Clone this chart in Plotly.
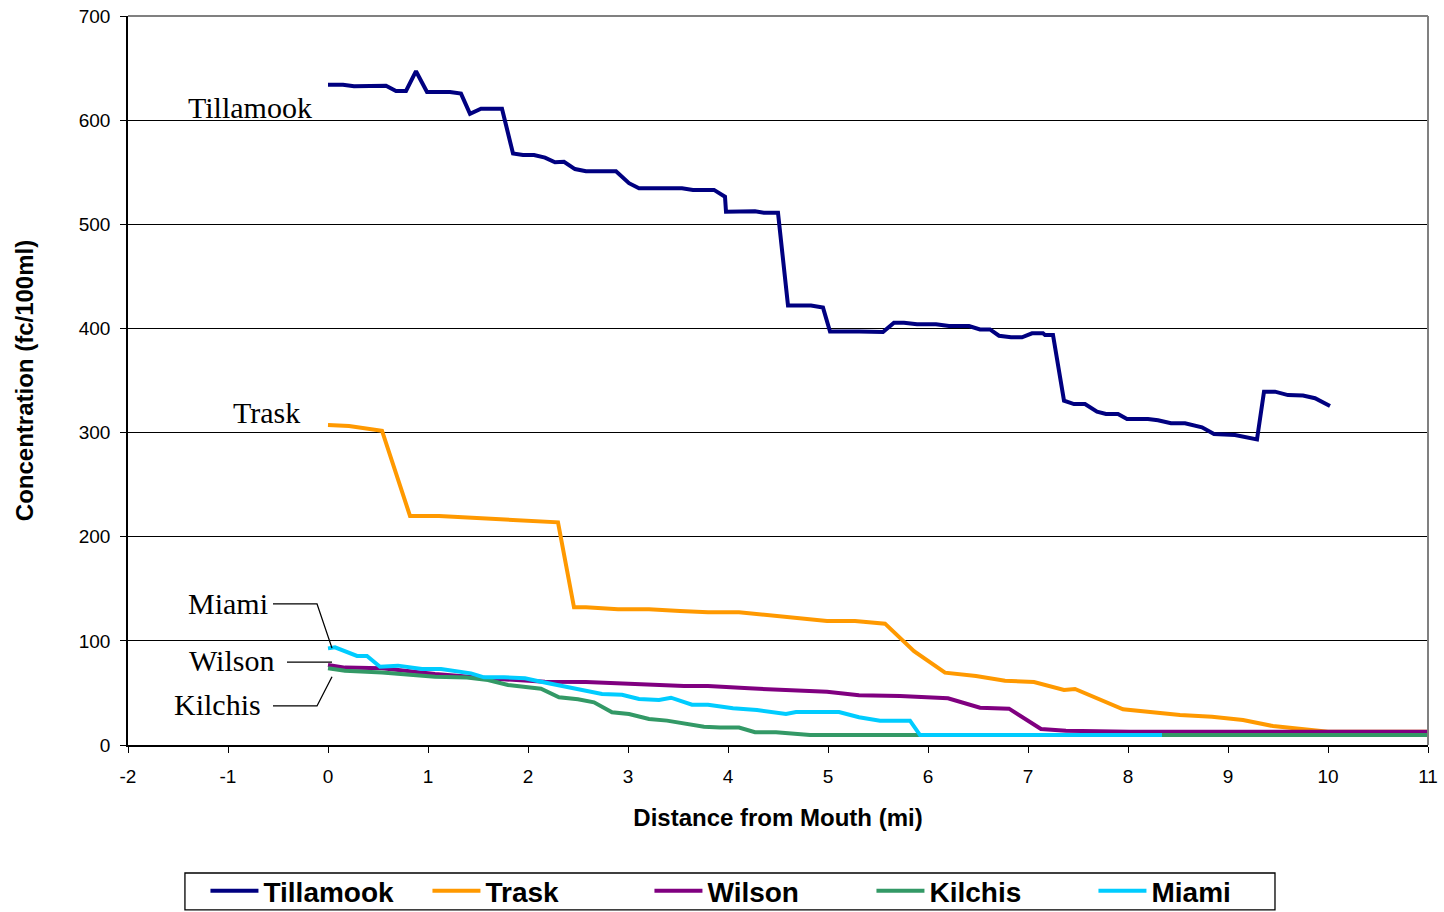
import plotly.graph_objects as go

# distance from mouth (mi) and concentration (fc/100ml)
tillamook_x = [0, 0.15, 0.26, 0.58, 0.68, 0.78, 0.88, 0.99, 1.22, 1.33, 1.42, 1.53, 1.74,
               1.85, 1.95, 2.06, 2.17, 2.27, 2.36, 2.47, 2.58, 2.88, 3.01, 3.11, 3.54,
               3.65, 3.86, 3.97, 3.98, 4.27, 4.36, 4.50, 4.60, 4.83, 4.95, 5.02, 5.31,
               5.55, 5.66, 5.76, 5.89, 6.08, 6.21, 6.41, 6.52, 6.62, 6.71, 6.83, 6.94,
               7.04, 7.15, 7.17, 7.25, 7.36, 7.46, 7.57, 7.69, 7.78, 7.90, 7.99, 8.20,
               8.30, 8.43, 8.57, 8.74, 8.86, 9.07, 9.29, 9.36, 9.47, 9.60, 9.75, 9.87, 10.02]
tillamook_y = [634, 634, 632.5, 633, 628, 628, 647, 627, 627, 625.5, 606, 611, 611,
               568, 566.5, 566.5, 564, 559.5, 560, 553, 551, 551, 539.5, 534.5, 534.5,
               533, 533, 526.5, 512, 512.5, 511, 511, 422, 422, 420, 397, 397,
               396.5, 405.5, 405.5, 404, 404, 402.3, 402.3, 399, 399, 393, 391.5, 391.5,
               395.3, 395.3, 393.7, 393.7, 330.6, 327.4, 327.4, 320, 317.8, 317.8, 313, 313,
               311.8, 308.9, 308.9, 305, 298.6, 297.7, 293.5, 339.3, 339.3, 336, 335.5, 333, 325.5]

trask_x = [0, 0.21, 0.54, 0.82, 1.11, 1.43, 1.72, 2.01, 2.30, 2.46, 2.58, 2.90, 3.21,
           3.52, 3.80, 4.11, 4.37, 4.70, 4.99, 5.27, 5.57, 5.86, 6.17, 6.48, 6.77, 7.06,
           7.36, 7.47, 7.95, 8.52, 8.84, 9.15, 9.45, 10.0, 11.0]
trask_y = [307.3, 306.3, 301.8, 220, 220, 218.3, 217, 215.4, 213.8, 132.2, 132.2, 130.3, 130.3,
           128.7, 127.4, 127.4, 124.8, 121.6, 119, 119, 116.5, 90, 69.5, 66.3, 61.8, 60.5,
           52.8, 53.8, 34.3, 28.8, 27.2, 24, 18.2, 12.8, 12.8]

wilson_x = [0, 0.17, 0.54, 1.07, 1.6, 2.17, 2.58, 2.99, 3.56, 3.80, 4.21, 4.99, 5.31,
            5.72, 5.91, 6.20, 6.52, 6.81, 7.13, 7.38, 8.02, 11.0]
wilson_y = [76.8, 74.3, 73.6, 68.2, 64, 60.8, 60.5, 58.6, 56.7, 56.7, 54.4, 51.2, 47.7,
            47, 46.4, 44.8, 35.8, 34.9, 15.4, 13.8, 12.8, 12.8]

kilchis_x = [0, 0.17, 0.54, 1.07, 1.39, 1.60, 1.80, 1.97, 2.13, 2.31, 2.50, 2.66, 2.84,
             3.01, 3.21, 3.39, 3.76, 3.92, 4.11, 4.27, 4.48, 4.82, 5.88, 11.0]
kilchis_y = [73.6, 71.4, 69.5, 65.6, 64.7, 62.4, 57.6, 55.4, 54.1, 45.8, 43.9, 41, 31.4,
             29.8, 25, 23.4, 17.6, 16.7, 16.7, 12.2, 12.2, 9.5, 9.5, 9.5]

miami_x = [0, 0.07, 0.29, 0.39, 0.52, 0.70, 0.94, 1.13, 1.43, 1.56, 1.76, 1.97, 2.13,
           2.33, 2.50, 2.74, 2.94, 3.11, 3.31, 3.43, 3.64, 3.80, 4.05, 4.29, 4.58, 4.68,
           5.11, 5.31, 5.52, 5.82, 5.92, 8.34]
miami_y = [92.8, 93.8, 85.5, 85.5, 75.2, 76.2, 73, 73, 68.8, 65, 65, 64, 60.8,
           57, 52.8, 49, 48.3, 44.2, 43.2, 45.4, 38.7, 38.7, 35.2, 33.6, 29.8, 31.7,
           31.7, 26.6, 23.4, 23.4, 9.5, 9.5]

x_ticks = list(range(-2, 12))
x_ticktext = [str(v) for v in x_ticks]   # plain hyphen like the source, not plotly's minus

series = [
    ("Tillamook", tillamook_x, tillamook_y, "#000080"),
    ("Trask", trask_x, trask_y, "#FF9900"),
    ("Wilson", wilson_x, wilson_y, "#800080"),
    ("Kilchis", kilchis_x, kilchis_y, "#339966"),
    ("Miami", miami_x, miami_y, "#00CCFF"),
]

# label text, position, and leader line path (data coords)
labels = [
    ("Tillamook", -0.78, 612, None),
    ("Trask", -0.62, 319, None),
    ("Miami", -1.0, 136, "M -0.55 135.5 L -0.11 135.5 L 0.04 93"),
    ("Wilson", -0.97, 81, "M -0.41 79.5 L 0.04 79.5"),
    ("Kilchis", -1.11, 38.5, "M -0.55 37.5 L -0.11 37.5 L 0.04 65.6"),
]

fig = go.Figure()

for name, xs, ys, color in series:
    fig.add_trace(go.Scatter(x=xs, y=ys, name=name, mode="lines",
                             line=dict(color=color, width=4)))

shapes = []
annotations = []
for text, lx, ly, path in labels:
    annotations.append(dict(x=lx, y=ly, xref="x", yref="y", text=text, showarrow=False,
                            font=dict(family="Liberation Serif", size=30, color="black")))
    if path:
        shapes.append(dict(type="path", path=path, xref="x", yref="y",
                           line=dict(color="black", width=1.3)))

# grey frame on top and right
shapes.append(dict(type="line", xref="paper", yref="paper", x0=0, x1=1, y0=1, y1=1,
                   line=dict(color="#808080", width=2)))
shapes.append(dict(type="line", xref="paper", yref="paper", x0=1, x1=1, y0=0, y1=1,
                   line=dict(color="#808080", width=2)))
# legend box drawn by hand, plotly's own border is too tall for the space
shapes.append(dict(type="rect", xref="paper", yref="paper", x0=0.0438, x1=0.8823,
                   y0=-0.2263, y1=-0.1756, line=dict(color="black", width=1.3)))

fig.update_layout(
    width=1444, height=912,
    margin=dict(l=128, r=16, t=16, b=167, autoexpand=False),
    plot_bgcolor="white", paper_bgcolor="white",
    font=dict(family="Arial, Liberation Sans", color="black"),
    shapes=shapes, annotations=annotations,
    showlegend=True,
    legend=dict(orientation="h", x=0.4865, xanchor="center", y=-0.166, yanchor="top",
                borderwidth=0, bgcolor="rgba(0,0,0,0)",
                font=dict(family="Liberation Sans", size=28, color="black", weight="bold"),
                itemwidth=48, entrywidth=159, entrywidthmode="pixels",
                traceorder="normal"),
)

fig.update_xaxes(range=[-2, 11], tickvals=x_ticks, ticktext=x_ticktext,
                 showgrid=False, zeroline=False, automargin=False, ticklabeloverflow="allow",
                 showline=True, linecolor="black", linewidth=1.5,
                 ticks="outside", ticklen=6, tickcolor="black", ticklabelstandoff=7,
                 tickfont=dict(size=19),
                 title=dict(text="<b>Distance from Mouth (mi)</b>", font=dict(size=24), standoff=24))
fig.update_yaxes(range=[0, 700], dtick=100, showgrid=True, gridcolor="black", gridwidth=1,
                 zeroline=False, showline=True, linecolor="black", linewidth=1.5,
                 automargin=False, ticklabeloverflow="allow",
                 ticks="outside", ticklen=6, tickcolor="black", ticklabelstandoff=6,
                 tickfont=dict(size=19),
                 title=dict(text="<b>Concentration (fc/100ml)</b>", font=dict(size=24), standoff=38))

# drop the default 8px body margin so the figure fills the window exactly
fig.write_html("out.html", config={"displayModeBar": False},
               post_script="document.body.style.margin='0';")
